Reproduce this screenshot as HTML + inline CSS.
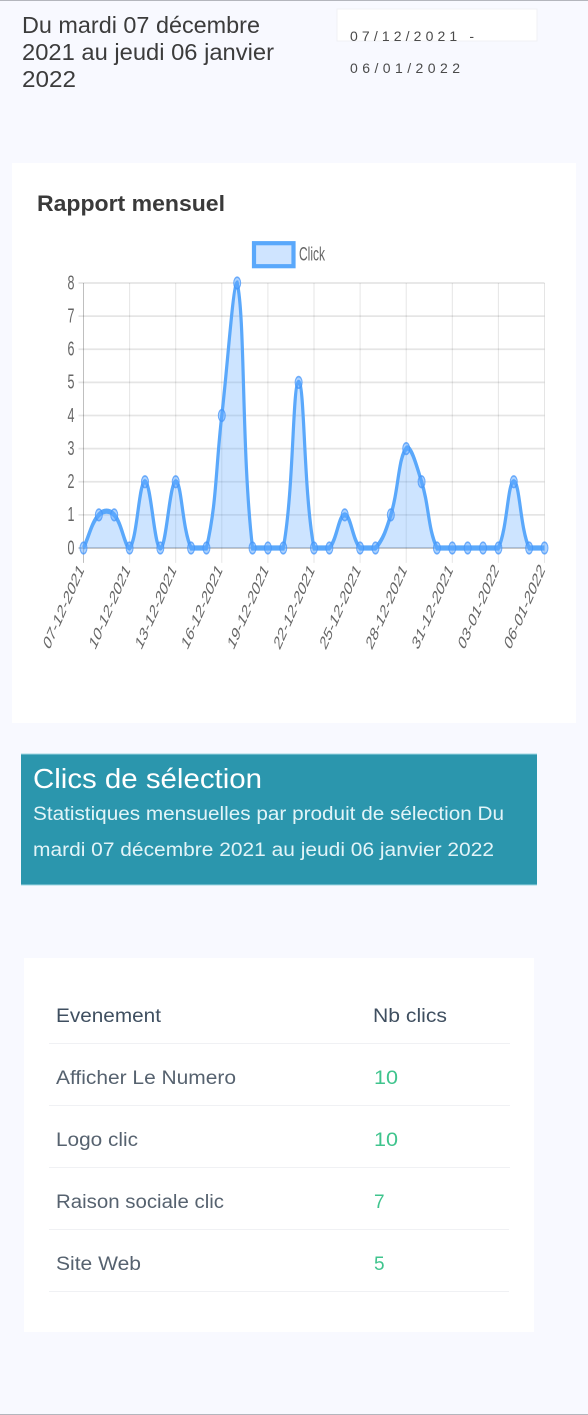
<!DOCTYPE html>
<html lang="fr">
<head>
<meta charset="utf-8">
<title>Rapport mensuel</title>
<style>
html,body{margin:0;padding:0;background:#f8f9ff;}
body{width:588px;height:1415px;overflow:hidden;position:relative;}
svg{position:absolute;left:0;top:0;display:block;font-family:"Liberation Sans",sans-serif;}
#page{filter:blur(0.35px);}
</style>
</head>
<body>
<svg id="page" width="588" height="1415" viewBox="0 0 588 1415" xmlns="http://www.w3.org/2000/svg">
  <rect x="0" y="0" width="588" height="1415" fill="#f8f9ff"/>
  <rect x="0" y="0" width="588" height="1" fill="#b4b6bd"/>
  <rect x="0" y="1414" width="588" height="1" fill="#b4b6bd"/>

  <g fill="#3c3c3c" font-size="23">
    <text x="22" y="33" textLength="238" lengthAdjust="spacingAndGlyphs">Du mardi 07 décembre</text>
    <text x="22" y="60" textLength="252" lengthAdjust="spacingAndGlyphs">2021 au jeudi 06 janvier</text>
    <text x="22" y="87" textLength="54" lengthAdjust="spacingAndGlyphs">2022</text>
  </g>

  <rect x="337" y="9" width="200" height="32" fill="#ffffff" stroke="#f0f1f6" stroke-width="1"/>
  <g fill="#4a4a4a" font-size="14">
    <text x="350" y="41" textLength="124">07/12/2021 -</text>
    <text x="350" y="73" textLength="110">06/01/2022</text>
  </g>

  <rect x="12" y="163" width="564" height="560" fill="#ffffff"/>
  <text x="37" y="211" font-size="22" font-weight="700" fill="#3a3a3a" textLength="188" lengthAdjust="spacingAndGlyphs">Rapport mensuel</text>

  <g>
    <rect x="254" y="243.2" width="39.5" height="23" fill="#cfe4ff" stroke="#5aa8fb" stroke-width="4.2"/>
    <text transform="translate(299 254) scale(1 1.65)" y="4" font-size="12" fill="#666666">Click</text>
  </g>

  <g id="chart" transform="scale(1 1.65)"></g>

  <rect x="21" y="754" width="516" height="131" fill="#2b96ad"/>
  <rect x="21" y="753.5" width="516" height="1" fill="#9fd6e2"/>
  <rect x="21" y="884.5" width="516" height="1" fill="#9fd6e2"/>
  <text x="33" y="788" font-size="28" fill="#ffffff" textLength="229" lengthAdjust="spacingAndGlyphs">Clics de sélection</text>
  <text x="33" y="820" font-size="19" fill="#e2f4f8" textLength="471" lengthAdjust="spacingAndGlyphs">Statistiques mensuelles par produit de sélection Du</text>
  <text x="33" y="856" font-size="19" fill="#e2f4f8" textLength="461" lengthAdjust="spacingAndGlyphs">mardi 07 décembre 2021 au jeudi 06 janvier 2022</text>

  <rect x="24" y="958" width="510" height="374" fill="#ffffff"/>
  <g font-size="19">
    <text x="56" y="1022" fill="#3f4f60" textLength="105" lengthAdjust="spacingAndGlyphs">Evenement</text>
    <text x="373" y="1022" fill="#3f4f60" textLength="74" lengthAdjust="spacingAndGlyphs">Nb clics</text>
    <rect x="49" y="1043" width="461" height="1" fill="#f0f1f4"/>

    <text x="56" y="1084" fill="#56626f" textLength="180" lengthAdjust="spacingAndGlyphs">Afficher Le Numero</text>
    <text x="374" y="1084" fill="#3fc48d" textLength="24" lengthAdjust="spacingAndGlyphs">10</text>
    <rect x="49" y="1105" width="461" height="1" fill="#f0f1f4"/>

    <text x="56" y="1146" fill="#56626f" textLength="82" lengthAdjust="spacingAndGlyphs">Logo clic</text>
    <text x="374" y="1146" fill="#3fc48d" textLength="24" lengthAdjust="spacingAndGlyphs">10</text>
    <rect x="49" y="1167" width="461" height="1" fill="#f0f1f4"/>

    <text x="56" y="1208" fill="#56626f" textLength="168" lengthAdjust="spacingAndGlyphs">Raison sociale clic</text>
    <text x="374" y="1208" fill="#3fc48d">7</text>
    <rect x="49" y="1229" width="460" height="1" fill="#f0f1f4"/>

    <text x="56" y="1270" fill="#56626f" textLength="85" lengthAdjust="spacingAndGlyphs">Site Web</text>
    <text x="374" y="1270" fill="#3fc48d">5</text>
    <rect x="49" y="1291" width="460" height="1" fill="#f0f1f4"/>
  </g>
</svg>

<script>
const categories = ["07-12-2021","08-12-2021","09-12-2021","10-12-2021","11-12-2021","12-12-2021","13-12-2021","14-12-2021","15-12-2021","16-12-2021","17-12-2021","18-12-2021","19-12-2021","20-12-2021","21-12-2021","22-12-2021","23-12-2021","24-12-2021","25-12-2021","26-12-2021","27-12-2021","28-12-2021","29-12-2021","30-12-2021","31-12-2021","01-01-2022","02-01-2022","03-01-2022","04-01-2022","05-01-2022","06-01-2022"];
const clickValues = [0,1,1,0,2,0,2,0,0,4,8,0,0,0,5,0,0,1,0,0,1,3,2,0,0,0,0,0,2,0,0];
const yTicks = [0,1,2,3,4,5,6,7,8];

const SVG_NS = 'http://www.w3.org/2000/svg';
const STRETCH = 1.65;
const plot = {left: 83.5, right: 544.5, top: 283 / STRETCH, bottom: 548 / STRETCH};
const yMax = yTicks[yTicks.length - 1];
const TENSION = 0.4;
const chart = document.getElementById('chart');

function xScale(i) {
  return plot.left + (plot.right - plot.left) * i / (categories.length - 1);
}
function yScale(v) {
  return plot.bottom - (plot.bottom - plot.top) * v / yMax;
}
function make(tag, attrs) {
  const el = document.createElementNS(SVG_NS, tag);
  Object.keys(attrs).forEach(function (k) { el.setAttribute(k, attrs[k]); });
  chart.appendChild(el);
  return el;
}

yTicks.forEach(function (t) {
  const y = yScale(t);
  const line = make('line', {x1: plot.left - 5, x2: plot.right, y1: y, y2: y, stroke: t === 0 ? 'rgba(0,0,0,0.25)' : 'rgba(0,0,0,0.1)', 'stroke-width': 1});
  
  
  const label = make('text', {x: plot.left - 9, y: y + 3.8, 'text-anchor': 'end', 'font-size': 12.5, fill: '#666666'});
  label.textContent = String(t);
  
  
});

categories.forEach(function (c, i) {
  if (i % 3 !== 0) return;
  const x = xScale(i);
  const line = make('line', {x1: x, x2: x, y1: plot.top, y2: plot.bottom + 9, stroke: i === 0 ? 'rgba(0,0,0,0.25)' : 'rgba(0,0,0,0.1)', 'stroke-width': 1});
  
  
  const label = make('text', {transform: 'translate(' + (x + 1) + ' ' + (plot.bottom + 13.5) + ') rotate(-54)', 'text-anchor': 'end', 'font-size': 11.8, fill: '#666666'});
  label.textContent = c;
  
  
});

const pts = clickValues.map(function (v, i) { return {x: xScale(i), y: yScale(v)}; });
const clamp = function (v, lo, hi) { return Math.max(lo, Math.min(hi, v)); };
pts.forEach(function (p, i) {
  const prev = pts[i - 1] || p;
  const next = pts[i + 1] || p;
  const d01 = Math.hypot(p.x - prev.x, p.y - prev.y);
  const d12 = Math.hypot(next.x - p.x, next.y - p.y);
  const total = (d01 + d12) || 1;
  const fa = TENSION * d01 / total;
  const fb = TENSION * d12 / total;
  p.c1x = clamp(p.x - fa * (next.x - prev.x), plot.left, plot.right);
  p.c1y = clamp(p.y - fa * (next.y - prev.y), plot.top, plot.bottom);
  p.c2x = clamp(p.x + fb * (next.x - prev.x), plot.left, plot.right);
  p.c2y = clamp(p.y + fb * (next.y - prev.y), plot.top, plot.bottom);
});
let d = 'M' + pts[0].x + ' ' + pts[0].y;
for (let i = 1; i < pts.length; i++) {
  d += 'C' + pts[i - 1].c2x + ' ' + pts[i - 1].c2y + ' ' + pts[i].c1x + ' ' + pts[i].c1y + ' ' + pts[i].x + ' ' + pts[i].y;
}
const area = make('path', {d: d + 'L' + plot.right + ' ' + plot.bottom + 'L' + plot.left + ' ' + plot.bottom + 'Z', fill: 'rgba(90,165,255,0.3)', stroke: 'none'});


const curve = make('path', {d: d, fill: 'none', stroke: '#5aa8fb', 'stroke-width': 3.2});


pts.forEach(function (p) {
  const dot = make('circle', {cx: p.x, cy: p.y, r: 3.5, fill: 'rgba(90,165,255,0.5)', stroke: 'rgba(70,150,250,0.75)', 'stroke-width': 1});
  
  
});
</script>
</body>
</html>
